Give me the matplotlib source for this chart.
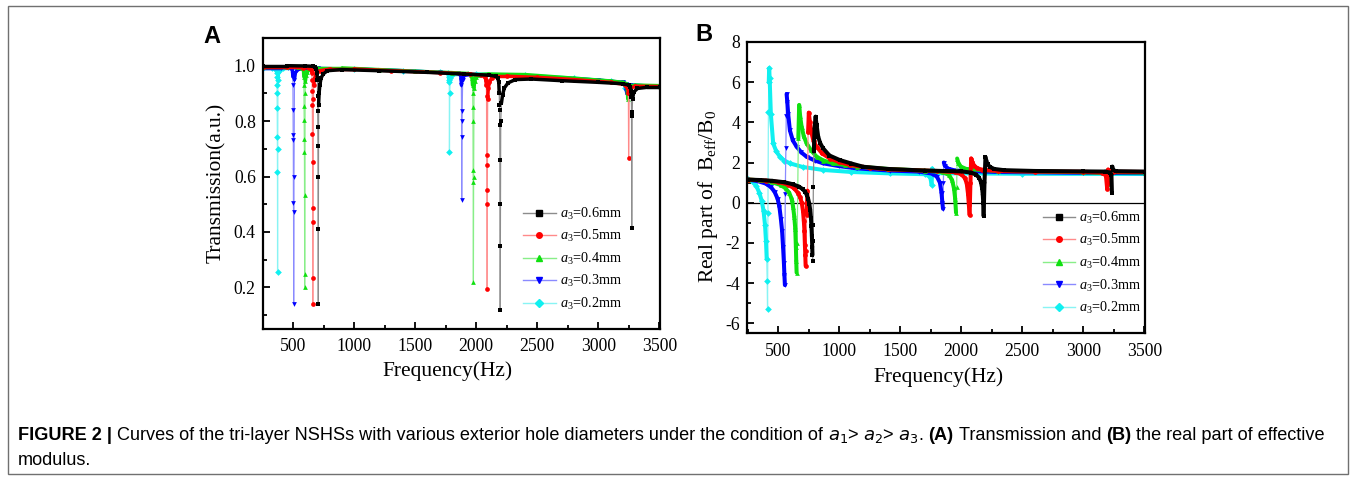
import numpy as np
import matplotlib
matplotlib.use("Agg")
import matplotlib.pyplot as plt
from matplotlib.collections import LineCollection
from matplotlib.lines import Line2D
from matplotlib.patches import Rectangle
from matplotlib.ticker import MultipleLocator

plt.rcParams.update({
    "font.family": "Liberation Serif",
    "mathtext.fontset": "custom",
    "mathtext.rm": "Liberation Serif",
    "mathtext.it": "Liberation Serif:italic",
    "mathtext.bf": "Liberation Serif:bold",
    "axes.unicode_minus": False,
})

# ---------------- data ----------------
labels = ["$a_3$=0.6mm", "$a_3$=0.5mm", "$a_3$=0.4mm", "$a_3$=0.3mm", "$a_3$=0.2mm"]
colors = ["#000000", "#ff0000", "#10e010", "#0000ff", "#10f0f0"]
light = ["#8c8c8c", "#ff8a8a", "#88ee88", "#8a8aff", "#88f4f4"]
markers = ["s", "o", "^", "v", "D"]

# Panel A: transmission
fA_06 = [250, 450, 600, 660, 680, 690, 695, 698, 700, 701, 702, 703, 704, 705, 706, 708, 712, 718, 728, 745,
         780, 900, 1200, 1600, 1900, 2100, 2160, 2176, 2184, 2188, 2190, 2191, 2192, 2193, 2194, 2195, 2197, 2200,
         2206, 2215, 2230, 2260, 2320, 2450, 2700, 3000, 3200, 3250, 3262, 3267, 3270, 3272, 3274, 3276, 3280,
         3290, 3320, 3400, 3505]
tA_06 = [1.0, 1.0, 0.999, 0.998, 0.995, 0.988, 0.975, 0.95, 0.89, 0.835, 0.78, 0.71, 0.6, 0.14, 0.41, 0.86, 0.9,
         0.93, 0.955, 0.97, 0.982, 0.986, 0.982, 0.976, 0.97, 0.966, 0.962, 0.955, 0.94, 0.9, 0.858, 0.84, 0.786,
         0.66, 0.5, 0.12, 0.35, 0.8, 0.865, 0.895, 0.92, 0.938, 0.95, 0.952, 0.946, 0.94, 0.935, 0.93, 0.925, 0.91,
         0.888, 0.834, 0.415, 0.82, 0.88, 0.905, 0.918, 0.922, 0.922]
fA_05 = [250, 450, 580, 630, 645, 650, 653, 655, 656, 657, 658, 659, 660, 661, 662, 663, 665, 668, 675, 690,
         720, 800, 1000, 1300, 1700, 1950, 2040, 2070, 2078, 2082, 2084, 2085, 2086, 2087, 2088, 2090, 2093, 2098,
         2108, 2125, 2160, 2250, 2500, 2800, 3100, 3220, 3238, 3243, 3246, 3248, 3252, 3262, 3300, 3505]
tA_05 = [0.994, 0.994, 0.993, 0.992, 0.99, 0.985, 0.975, 0.95, 0.91, 0.86, 0.753, 0.653, 0.486, 0.142, 0.233,
         0.435, 0.88, 0.93, 0.955, 0.972, 0.982, 0.988, 0.988, 0.982, 0.975, 0.97, 0.966, 0.96, 0.95, 0.93, 0.89,
         0.677, 0.64, 0.5, 0.195, 0.55, 0.88, 0.92, 0.94, 0.955, 0.962, 0.962, 0.958, 0.95, 0.94, 0.932, 0.925,
         0.92, 0.9, 0.667, 0.9, 0.918, 0.926, 0.925]
fA_04 = [250, 450, 540, 570, 580, 585, 587, 588, 589, 590, 591, 592, 593, 594, 595, 597, 600, 606, 615, 640,
         700, 900, 1200, 1500, 1800, 1930, 1960, 1966, 1969, 1971, 1972, 1973, 1974, 1975, 1976, 1978, 1981, 1987,
         1997, 2020, 2100, 2400, 2800, 3100, 3200, 3232, 3238, 3241, 3244, 3250, 3300, 3505]
tA_04 = [0.996, 0.996, 0.995, 0.993, 0.99, 0.98, 0.96, 0.93, 0.855, 0.804, 0.735, 0.69, 0.533, 0.2, 0.25, 0.9,
         0.945, 0.965, 0.978, 0.988, 0.992, 0.992, 0.986, 0.98, 0.975, 0.972, 0.968, 0.955, 0.93, 0.9, 0.85, 0.8,
         0.625, 0.579, 0.22, 0.6, 0.92, 0.945, 0.96, 0.968, 0.97, 0.968, 0.955, 0.945, 0.94, 0.935, 0.91, 0.88,
         0.915, 0.93, 0.93, 0.928]
fA_03 = [250, 400, 460, 485, 492, 495, 497, 498, 499, 500, 501, 502, 503, 504, 506, 510, 518, 535, 570, 700,
         1000, 1400, 1700, 1850, 1872, 1876, 1878, 1879, 1880, 1881, 1883, 1888, 1900, 1950, 2200, 2600, 3000,
         3200, 3226, 3230, 3233, 3238, 3260, 3505]
tA_03 = [0.993, 0.993, 0.992, 0.99, 0.985, 0.975, 0.96, 0.93, 0.84, 0.75, 0.732, 0.505, 0.473, 0.142, 0.6, 0.95,
         0.975, 0.985, 0.99, 0.99, 0.988, 0.982, 0.976, 0.972, 0.965, 0.95, 0.93, 0.836, 0.744, 0.515, 0.8, 0.95,
         0.965, 0.968, 0.965, 0.958, 0.948, 0.94, 0.935, 0.91, 0.9, 0.925, 0.93, 0.925]
fA_02 = [250, 330, 355, 362, 365, 366, 367, 368, 369, 370, 371, 372, 373, 375, 380, 390, 420, 600, 1000, 1400,
         1700, 1765, 1774, 1777, 1779, 1780, 1782, 1787, 1800, 2000, 2400, 2800, 3100, 3210, 3218, 3222, 3226,
         3240, 3505]
tA_02 = [0.993, 0.993, 0.99, 0.985, 0.975, 0.96, 0.93, 0.9, 0.846, 0.744, 0.617, 0.256, 0.7, 0.95, 0.98, 0.988,
         0.99, 0.99, 0.988, 0.982, 0.976, 0.972, 0.96, 0.95, 0.94, 0.69, 0.9, 0.955, 0.968, 0.97, 0.965, 0.955,
         0.944, 0.938, 0.932, 0.92, 0.93, 0.932, 0.924]

# Panel B: real part of B_eff/B_0
fB_06 = [250, 350, 450, 550, 620, 670, 700, 720, 735, 745, 755, 762, 768, 772, 776, 779, 781, 782, 784, 786,
         788, 792, 798, 806, 815, 828, 845, 869, 920, 1006, 1100, 1197, 1400, 1700, 2000, 2080, 2120, 2145, 2160,
         2170, 2176, 2180, 2183, 2190, 2198, 2205, 2215, 2235, 2270, 2350, 2600, 3000, 3180, 3220, 3230, 3234,
         3238, 3245, 3270, 3505]
vB_06 = [1.15, 1.13, 1.09, 1.02, 0.92, 0.8, 0.68, 0.55, 0.38, 0.2, -0.05, -0.35, -0.75, -1.15, -1.65, -2.2, -2.6,
         -2.9, -1.9, -1.1, 0.8, 2.55, 3.7, 4.28, 3.85, 3.28, 2.95, 2.7, 2.35, 2.12, 1.95, 1.79, 1.68, 1.6, 1.56,
         1.5, 1.4, 1.25, 1.05, 0.75, 0.4, 0.0, -0.65, 1.0, 2.27, 2.1, 1.92, 1.78, 1.68, 1.62, 1.58, 1.56, 1.55, 1.5,
         1.4, 0.5, 1.8, 1.62, 1.57, 1.55]
fB_05 = [250, 400, 500, 580, 630, 660, 680, 693, 703, 710, 715, 719, 722, 725, 728, 733, 740, 745, 751, 760,
         774, 790, 815, 860, 924, 1000, 1088, 1250, 1400, 1800, 1950, 2000, 2030, 2045, 2055, 2062, 2068, 2075,
         2081, 2090, 2105, 2130, 2170, 2300, 2600, 3000, 3150, 3185, 3195, 3199, 3203, 3210, 3240, 3505]
vB_05 = [1.15, 1.1, 1.03, 0.9, 0.72, 0.5, 0.27, 0.0, -0.4, -0.9, -1.4, -2.1, -2.6, -3.15, -2.4, -0.6, 0.6, 3.5,
         4.48, 4.0, 3.45, 3.05, 2.79, 2.45, 2.2, 2.02, 1.88, 1.74, 1.66, 1.58, 1.52, 1.42, 1.22, 0.95, 0.45, -0.1,
         -0.6, 1.0, 2.2, 2.02, 1.85, 1.72, 1.64, 1.58, 1.55, 1.54, 1.5, 1.35, 0.7, 1.0, 1.65, 1.56, 1.54, 1.53]
fB_04 = [250, 350, 450, 520, 560, 590, 610, 622, 632, 640, 645, 648, 651, 655, 660, 665, 672, 680, 692, 710,
         733, 770, 815, 870, 951, 1050, 1143, 1400, 1700, 1850, 1900, 1925, 1940, 1950, 1957, 1962, 1966, 1975,
         1995, 2040, 2300, 3000, 3175, 3195, 3202, 3207, 3215, 3505]
vB_04 = [1.15, 1.12, 1.02, 0.88, 0.72, 0.5, 0.2, -0.2, -0.7, -1.3, -2.2, -2.9, -3.48, -2.0, 0.5, 3.2, 4.86, 4.3,
         3.78, 3.3, 2.95, 2.6, 2.29, 2.1, 1.96, 1.87, 1.8, 1.68, 1.6, 1.52, 1.38, 1.12, 0.72, 0.2, -0.5, 0.8, 2.2,
         2.0, 1.8, 1.68, 1.58, 1.52, 1.48, 1.35, 0.95, 1.58, 1.52, 1.5]
fB_03 = [250, 330, 400, 440, 470, 495, 510, 522, 532, 540, 547, 551, 555, 558, 563, 566, 569, 575, 582, 596,
         620, 651, 690, 733, 800, 869, 1000, 1143, 1415, 1650, 1760, 1800, 1825, 1838, 1845, 1850, 1853, 1857,
         1865, 1890, 1950, 2300, 3000, 3505]
vB_03 = [1.15, 1.08, 0.95, 0.78, 0.55, 0.2, -0.2, -0.8, -1.4, -2.2, -3.0, -3.6, -4.1, 0.45, 2.7, 4.3, 5.41, 5.0,
         4.4, 3.6, 3.1, 2.79, 2.5, 2.29, 2.1, 1.96, 1.82, 1.71, 1.6, 1.55, 1.45, 1.3, 1.0, 0.5, 0.0, -0.3, 1.0, 2.0,
         1.85, 1.7, 1.6, 1.53, 1.49, 1.47]
fB_02 = [250, 290, 320, 345, 365, 380, 392, 400, 406, 410, 413, 416, 420, 423, 426, 430, 440, 459, 485, 514,
         550, 596, 700, 869, 1100, 1415, 1700, 1745, 1757, 1762, 1770, 1800, 2500, 3505]
vB_02 = [1.16, 1.05, 0.85, 0.5, 0.1, -0.4, -1.1, -1.9, -2.8, -3.9, -5.3, -0.5, 4.5, 6.0, 6.69, 6.2, 4.4, 2.95,
         2.55, 2.29, 2.1, 1.96, 1.78, 1.63, 1.53, 1.46, 1.42, 1.3, 0.9, 1.7, 1.55, 1.47, 1.44, 1.43]

seriesA = [(fA_06, tA_06), (fA_05, tA_05), (fA_04, tA_04), (fA_03, tA_03), (fA_02, tA_02)]
seriesB = [(fB_06, vB_06), (fB_05, vB_05), (fB_04, vB_04), (fB_03, vB_03), (fB_02, vB_02)]

# ---------------- figure ----------------
W, H = 1356, 480
fig = plt.figure(figsize=(W / 100, H / 100), dpi=100)


def px_rect(l, t, r, b):
    return [l / W, 1 - b / H, (r - l) / W, (b - t) / H]


axA = fig.add_axes(px_rect(262.7, 38, 660, 329))
axB = fig.add_axes(px_rect(747.3, 42, 1145, 333.3))

axA.set_xlim(250, 3505)
axA.set_ylim(0.05, 1.1)
axB.set_xlim(247, 3505)
axB.set_ylim(-6.5, 8)

for ax in (axA, axB):
    for s in ax.spines.values():
        s.set_linewidth(1.6)
    ax.tick_params(which="both", direction="in", top=False, right=False, width=1.3, labelsize=12.7)
    ax.tick_params(which="major", length=5)
    ax.tick_params(which="minor", length=3)
    ax.xaxis.set_major_locator(MultipleLocator(500))
    ax.xaxis.set_minor_locator(MultipleLocator(250))
axA.tick_params(axis="x", pad=6.5)
axA.tick_params(axis="y", pad=5)
axB.tick_params(axis="x", pad=7)
axB.tick_params(axis="y", pad=5)
axA.yaxis.set_major_locator(MultipleLocator(0.2))
axA.yaxis.set_minor_locator(MultipleLocator(0.1))
axA.yaxis.set_major_formatter(matplotlib.ticker.FormatStrFormatter("%.1f"))
axB.yaxis.set_major_locator(MultipleLocator(2))
axB.yaxis.set_minor_locator(MultipleLocator(1))

axB.axhline(0, color="black", lw=0.9, zorder=1)


def draw_series(ax, f, v, i, lw_thick, ms, thr):
    f = np.asarray(f, float)
    v = np.asarray(v, float)
    assert len(f) == len(v)
    pts = ax.transData.transform(np.column_stack([f, v]))
    segs = np.stack([np.column_stack([f[:-1], v[:-1]]), np.column_stack([f[1:], v[1:]])], axis=1)
    dy = np.abs(np.diff(pts[:, 1]))
    df = np.abs(np.diff(f))
    steep = (dy / np.maximum(df, 1e-9) > thr) & (dy > 4)
    z = 2 + (5 - i) * 0.1
    ax.add_collection(LineCollection(segs[steep], colors=light[i], linewidths=0.9, zorder=z))
    ax.add_collection(LineCollection(segs[~steep], colors=colors[i], linewidths=lw_thick,
                                     capstyle="round", joinstyle="round", zorder=z + 0.01))
    ax.plot(f, v, ls="none", marker=markers[i], ms=ms, color=colors[i], mew=0, zorder=z + 0.02)


for i in reversed(range(5)):
    draw_series(axA, *seriesA[i], i, lw_thick=2.5, ms=3.4, thr=3.0)
    draw_series(axB, *seriesB[i], i, lw_thick=2.9, ms=3.4, thr=5.0)

handles = [Line2D([], [], color=light[i], lw=1.0, marker=markers[i], mfc=colors[i], mec=colors[i], ms=4.0)
           for i in range(5)]
legkw = dict(frameon=False, fontsize=10.3, handlelength=2.25, handletextpad=0.3, labelspacing=0.45,
             borderpad=0, borderaxespad=0, loc="upper left")
axA.legend(handles, labels, bbox_to_anchor=(0.656, 0.424), **legkw)
axB.legend(handles, labels, bbox_to_anchor=(0.7435, 0.424), **legkw)

axA.set_xlabel("Frequency(Hz)", fontsize=15.5)
axA.set_ylabel("Transmission(a.u.)", fontsize=15.5)
axB.set_xlabel("Frequency(Hz)", fontsize=15.5)
axB.set_ylabel(r"Real part of  B$_{\mathrm{eff}}$/B$_{\mathrm{0}}$", fontsize=15.5)
axA.xaxis.set_label_coords(0.464, -0.144)
axA.xaxis.label.set_va("center")
axA.yaxis.set_label_coords(-0.1175, 0.503)
axA.yaxis.label.set_va("center")
axB.xaxis.set_label_coords(0.482, -0.15)
axB.xaxis.label.set_va("center")
axB.yaxis.set_label_coords(-0.099, 0.471)
axB.yaxis.label.set_va("center")

# panel letters
fig.text(203 / W, 1 - 42.7 / H, "A", fontfamily="Liberation Sans", fontweight="bold", fontsize=17,
         ha="left", va="baseline")
fig.text(695 / W, 1 - 41 / H, "B", fontfamily="Liberation Sans", fontweight="bold", fontsize=17,
         ha="left", va="baseline")

# border
fig.patches.append(Rectangle((8 / W, 1 - 474 / H), (1348 - 8) / W, (474 - 6) / H, transform=fig.transFigure,
                             fill=False, ec="#707070", lw=1.0))

# caption
cap_line1 = [("FIGURE 2 |", True),
             ("Curves of the tri-layer NSHSs with various exterior hole diameters under the condition of", False),
             ("$a_1$> $a_2$> $a_3$.", False), ("(A)", True), ("Transmission and", False), ("(B)", True),
             ("the real part of effective", False)]
cap_line2 = [("modulus.", False)]
renderer = fig.canvas.get_renderer()


def rich_line(x0, y, pieces, size):
    x = x0
    arts = []
    space = 0.278 * size * 100 / 72
    for k, (txt, bold) in enumerate(pieces):
        t = fig.text(x / W, 1 - y / H, txt, fontsize=size, fontfamily="Liberation Sans",
                     fontweight="bold" if bold else "normal", va="baseline", ha="left",
                     math_fontfamily="dejavusans")
        bb = t.get_window_extent(renderer)
        x += bb.width + space
        arts.append(t)
    return x - space - x0, arts


w0, arts = rich_line(18, 440, cap_line1, 11.0)
for a in arts:
    a.remove()
size = 11.0 * 1308 / w0
rich_line(18, 440, cap_line1, size)
rich_line(18, 465, cap_line2, size)

fig.savefig("out.png", dpi=100)
